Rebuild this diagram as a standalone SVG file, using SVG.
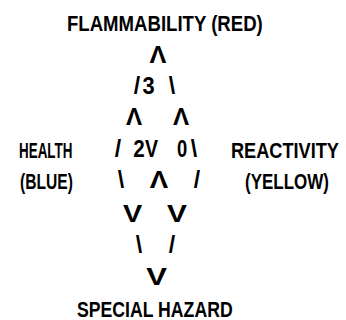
<svg xmlns="http://www.w3.org/2000/svg" width="346" height="320" viewBox="0 0 346 320">
<style>
text{font-family:"Liberation Sans","DejaVu Sans",sans-serif;font-weight:bold;font-size:23px;fill:#000}
.lbl{font-size:22px}
.g{text-anchor:middle}
</style>
<rect width="346" height="320" fill="#fff"/>
<g id="flammability"><text class="lbl" transform="translate(67,31) scale(0.845,1)">FLAMMABILITY (RED)</text></g>
<g id="health"><text class="lbl" transform="translate(19,158) scale(0.61,1)">HEALTH</text><text class="lbl" transform="translate(20,189) scale(0.71,1)">(BLUE)</text></g>
<g id="reactivity"><text class="lbl" transform="translate(231,158) scale(0.826,1)">REACTIVITY</text><text class="lbl" transform="translate(245,189) scale(0.772,1)">(YELLOW)</text></g>
<g id="special"><text class="lbl" transform="translate(77,317) scale(0.803,1)">SPECIAL HAZARD</text></g>
<g id="values">
<text class="g" transform="translate(148.5,94) scale(0.95,1)">3</text>
<text class="g" transform="translate(139,157) scale(0.9,1)">2</text>
<text class="g" transform="translate(182,157) scale(0.8,1)">0</text>
</g>
<g id="connectors">
<text class="g" transform="translate(158,63) scale(1.1,1)">Λ</text>
<text class="g" transform="translate(137,94)">/</text>
<text class="g" transform="translate(172,94)">\</text>
<text class="g" transform="translate(134,125) scale(1.05,1)">Λ</text>
<text class="g" transform="translate(181,125) scale(1.05,1)">Λ</text>
<text class="g" transform="translate(118,157)">/</text>
<text class="g" transform="translate(151.5,157) scale(0.85,1)">V</text>
<text class="g" transform="translate(194,157)">\</text>
<text class="g" transform="translate(121,188)">\</text>
<text class="g" transform="translate(159,188) scale(1.2,1)">Λ</text>
<text class="g" transform="translate(197,188)">/</text>
<text class="g" transform="translate(132.5,222) scale(1.25,1)">V</text>
<text class="g" transform="translate(177,222) scale(1.3,1)">V</text>
<text class="g" transform="translate(139,253)">\</text>
<text class="g" transform="translate(172,253)">/</text>
<text class="g" transform="translate(156.5,285) scale(1.35,1)">V</text>
</g>
</svg>
